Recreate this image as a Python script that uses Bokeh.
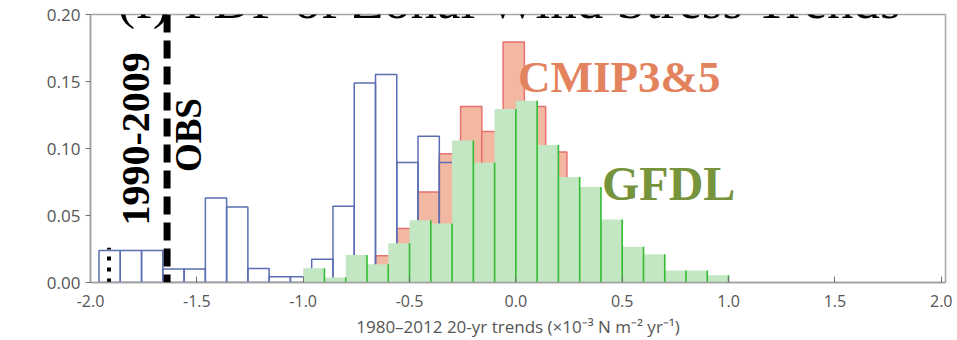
from bokeh.plotting import figure
from bokeh.models import Range1d, FixedTicker, PrintfTickFormatter, Label, Span, ColumnDataSource
from bokeh.embed import file_html
from bokeh.resources import INLINE

# ---------------- data ----------------
BIN_WIDTH = 0.1

# blue outlined histogram
obs_centers = [-1.91, -1.81, -1.71, -1.61, -1.51, -1.41, -1.31, -1.21, -1.11,
               -1.01, -0.91, -0.81, -0.71, -0.61, -0.51, -0.41, -0.31]
obs_counts = [0.0238, 0.0238, 0.0238, 0.0101, 0.0101, 0.0631, 0.0564, 0.0105, 0.0043,
              0.0043, 0.0173, 0.0569, 0.1488, 0.1552, 0.0896, 0.1092, 0.0896]

# CMIP3&5 histogram (salmon)
cmip_centers = [-0.81, -0.71, -0.61, -0.51, -0.41, -0.31, -0.21, -0.11, -0.01,
                0.09, 0.19, 0.29, 0.39, 0.49, 0.59, 0.69, 0.79]
cmip_counts = [0.0012, 0.0012, 0.020, 0.0403, 0.0676, 0.096, 0.1313, 0.1126, 0.1794,
               0.1313, 0.0973, 0.065, 0.040, 0.020, 0.004, 0.002, 0.001]

# GFDL histogram (green)
gfdl_centers = [-0.95, -0.85, -0.75, -0.65, -0.55, -0.45, -0.35, -0.25, -0.15, -0.05,
                0.05, 0.15, 0.25, 0.35, 0.45, 0.55, 0.65, 0.75, 0.85, 0.95]
gfdl_counts = [0.0106, 0.0037, 0.0205, 0.0136, 0.0292, 0.0465, 0.0440, 0.1059, 0.0893, 0.1294,
               0.1356, 0.1027, 0.0787, 0.0713, 0.0470, 0.0267, 0.0210, 0.0089, 0.0089, 0.0054]

obs_1990_2009 = -1.64      # thick dashed line
obs_other = -1.913         # short dotted mark
obs_other_height = 0.026

x_ticks = [-2.0, -1.5, -1.0, -0.5, 0.0, 0.5, 1.0, 1.5, 2.0]
y_ticks = [0.0, 0.05, 0.10, 0.15, 0.20]


def quads(centers, counts):
    return ColumnDataSource(dict(
        left=[c - BIN_WIDTH / 2 for c in centers],
        right=[c + BIN_WIDTH / 2 for c in centers],
        top=counts,
        bottom=[0.0] * len(counts),
    ))


p = figure(width=957, height=340,
           x_range=Range1d(-2.0, 2.02), y_range=Range1d(0, 0.2),
           output_backend="svg", toolbar_location=None,
           min_border_left=90, min_border_right=12,
           min_border_top=14, min_border_bottom=56)

p.background_fill_color = "white"
p.border_fill_color = "white"
p.outline_line_color = "#a8a8a8"
p.outline_line_width = 1.5
p.xgrid.visible = False
p.ygrid.visible = False

# CMIP (bottom layer)
p.quad(left="left", right="right", top="top", bottom="bottom", source=quads(cmip_centers, cmip_counts),
       fill_color="#f3b8a2", line_color="#e8706e", line_width=1.5)

# blue outline histogram (no fill)
p.quad(left="left", right="right", top="top", bottom="bottom", source=quads(obs_centers, obs_counts),
       fill_color=None, line_color="#5b6eb3", line_width=1.5)

# GFDL on top
gsrc = quads(gfdl_centers, gfdl_counts)
p.quad(left="left", right="right", top="top", bottom="bottom", source=gsrc,
       fill_color="#c4e7c3", line_color=None)
p.segment(x0="right", y0="bottom", x1="right", y1="top", source=gsrc,
          line_color="#33bb33", line_width=1.6)

# observation markers
p.add_layout(Span(location=obs_1990_2009, dimension="height", line_color="black",
                  line_width=7, line_dash="18 8"))
p.segment(x0=[obs_other], y0=[0], x1=[obs_other], y1=[obs_other_height],
          line_color="black", line_width=4, line_dash="4 7")

# axes
tick_font = "Open Sans"
p.xaxis.ticker = FixedTicker(ticks=x_ticks)
p.yaxis.ticker = FixedTicker(ticks=y_ticks)
p.xaxis.formatter = PrintfTickFormatter(format="%.1f")
p.yaxis.formatter = PrintfTickFormatter(format="%.2f")
for ax in (p.xaxis[0], p.yaxis[0]):
    ax.axis_line_color = "#a0a0a0"
    ax.axis_line_width = 1.5
    ax.major_tick_line_color = "#707070"
    ax.minor_tick_line_color = None
    ax.major_label_text_font = tick_font
    ax.major_label_text_color = "#555555"
    ax.axis_label_text_font = tick_font
    ax.axis_label_text_color = "#555555"
    ax.axis_label_text_font_style = "normal"

p.xaxis.major_tick_in = 6
p.xaxis.major_tick_out = 0
p.xaxis.major_label_standoff = 12
p.xaxis.major_label_text_font_size = "16px"
p.xaxis.axis_label = "1980\u20132012 20-yr trends (\u00d710\u207b\u00b3 N m\u207b\u00b2 yr\u207b\u00b9)"
p.xaxis.axis_label_text_font_size = "17px"
p.xaxis.axis_label_standoff = 5

p.yaxis.major_tick_in = 0
p.yaxis.major_tick_out = 5
p.yaxis.major_label_standoff = 5
p.yaxis.major_label_text_font_size = "17px"

# y-axis title placed as a label left of the frame (centred like the reference)
p.add_layout(Label(x=-2.33, y=0.0908, text="Normalized count", angle=1.5707963,
                   text_font=tick_font, text_font_size="16px", text_color="#555555",
                   text_align="center", text_baseline="middle"))

# text annotations
serif = "Liberation Serif"
p.add_layout(Label(x=-1.873, y=0.2, y_offset=15, text="(f) PDF of Zonal Wind Stress Trends",
                   text_font=serif, text_font_size="53px", text_color="black",
                   text_align="left", text_baseline="alphabetic"))
p.add_layout(Label(x=-1.784, y=0.1072, text="1990-2009", angle=1.5707963,
                   text_font=serif, text_font_style="bold", text_font_size="40px",
                   text_color="black", text_align="center", text_baseline="middle"))
p.add_layout(Label(x=-1.539, y=0.110, text="OBS", angle=1.5707963,
                   text_font=serif, text_font_style="bold", text_font_size="37px",
                   text_color="black", text_align="center", text_baseline="middle"))
p.add_layout(Label(x=0.010, y=0.1423, y_offset=15, text="CMIP3&5",
                   text_font=serif, text_font_style="bold", text_font_size="45px",
                   text_color="#e3835e", text_align="left", text_baseline="alphabetic"))
p.add_layout(Label(x=0.405, y=0.0619, y_offset=16, text="GFDL",
                   text_font=serif, text_font_style="bold", text_font_size="48px",
                   text_color="#77933c", text_align="left", text_baseline="alphabetic"))

open("out.html", "w").write(file_html(p, INLINE))
